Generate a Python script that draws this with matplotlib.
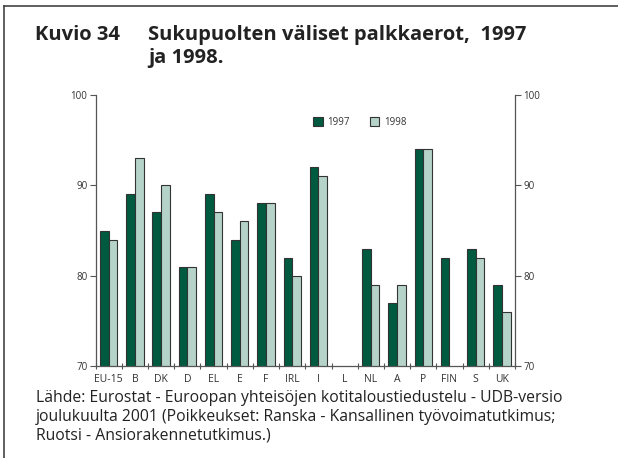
import matplotlib
matplotlib.use("Agg")
import matplotlib.pyplot as plt
import numpy as np

# Palkkaerot maittain (naisten palkka % miesten palkasta)
maat = ["EU-15", "B", "DK", "D", "EL", "E", "F", "IRL", "I", "L",
        "NL", "A", "P", "FIN", "S", "UK"]
v1997 = [85, 89, 87, 81, 89, 84, 88, 82, 92, np.nan, 83, 77, 94, 82, 83, 79]
v1998 = [84, 93, 90, 81, 87, 86, 88, 80, 91, np.nan, 79, 79, 94, np.nan, 82, 76]

tumma = "#005a40"
vaalea = "#b5d3c9"
reuna = "#333333"
akseli = "#555555"

plt.rcParams["font.family"] = ["Open Sans", "DejaVu Sans"]

fig = plt.figure(figsize=(6.18, 4.58), dpi=100)
ax = fig.add_axes([0.1547, 0.2015, 0.6786, 0.5904])

x = np.arange(len(maat))
w = 0.33
ax.bar(x - w / 2, v1997, w, bottom=0, color=tumma, edgecolor=reuna,
       linewidth=0.8, label="1997")
ax.bar(x + w / 2, v1998, w, bottom=0, color=vaalea, edgecolor=reuna,
       linewidth=0.8, label="1998")

ax.set_ylim(70, 100)
ax.set_xlim(-0.5, len(maat) - 0.5)
ax.set_yticks([70, 80, 90, 100])
ax.set_xticks(np.arange(-0.5, len(maat) - 0.4, 1.0))
ax.set_xticklabels([])
ax.set_xticks(x, minor=True)
ax.set_xticklabels(maat, minor=True)
ax.tick_params(axis="x", which="major", length=4, width=0.8, color=akseli,
               direction="inout")
ax.tick_params(axis="x", which="minor", length=0, pad=6, labelsize=7.5,
               labelcolor="#333333")
ax.tick_params(axis="y", length=4, width=0.8, color=akseli, labelsize=7,
               labelcolor="#333333", pad=2)

ax.spines["top"].set_visible(False)
ax.spines["right"].set_visible(False)
for s in ("left", "bottom"):
    ax.spines[s].set_color(akseli)
    ax.spines[s].set_linewidth(0.9)

# oikea akseli samoilla arvoilla
ax2 = ax.twinx()
ax2.set_ylim(70, 100)
ax2.set_yticks([70, 80, 90, 100])
ax2.tick_params(axis="y", length=4, width=0.8, color=akseli, labelsize=7,
                labelcolor="#333333", pad=2)
for s in ("top", "left", "bottom"):
    ax2.spines[s].set_visible(False)
ax2.spines["right"].set_color(akseli)
ax2.spines["right"].set_linewidth(0.9)

ax.legend(loc="center", bbox_to_anchor=(0.63, 0.90), ncol=2, frameon=False,
          fontsize=7, handlelength=1.0, handleheight=1.0, columnspacing=2.0,
          handletextpad=0.5, labelcolor="#333333")

# otsikko
otsikko = dict(fontsize=14.5, fontweight="bold", va="center", color="#222222")
fig.text(35 / 618, 1 - 35 / 458, "Kuvio 34", **otsikko)
fig.text(148 / 618, 1 - 35 / 458, "Sukupuolten väliset palkkaerot,  1997",
         **otsikko)
fig.text(148 / 618, 1 - 58 / 458, "ja 1998.", **otsikko)

lahde = ("Lähde: Eurostat - Euroopan yhteisöjen kotitaloustiedustelu - UDB-versio\n"
         "joulukuulta 2001 (Poikkeukset: Ranska - Kansallinen työvoimatutkimus;\n"
         "Ruotsi - Ansiorakennetutkimus.)")
fig.text(36 / 618, 1 - 390 / 458, lahde, fontsize=11.3, va="top",
         linespacing=1.24, color="#222222")

# kehys ylä- ja vasemmalle reunalle
fig.add_artist(plt.Line2D([3.5 / 618, 3.5 / 618], [0, 1 - 5.5 / 458],
                          color="#444444", linewidth=1.2))
fig.add_artist(plt.Line2D([3.5 / 618, 1], [1 - 5.5 / 458, 1 - 5.5 / 458],
                          color="#444444", linewidth=1.2))

fig.savefig("out.png", dpi=100)
